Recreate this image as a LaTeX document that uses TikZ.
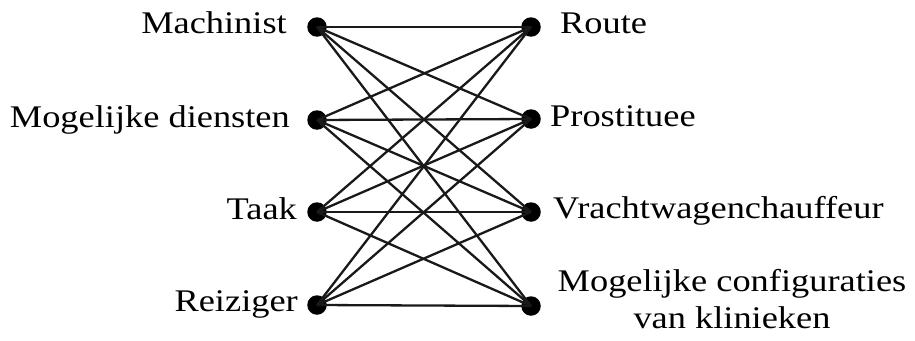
\documentclass[tikz,border=0pt]{standalone}
\usepackage{fontspec}
\setmainfont{Liberation Serif}
\begin{document}
\begin{tikzpicture}[x=1pt,y=-1pt,
  dot/.style={circle,fill=black,inner sep=0pt,minimum size=19.5pt},
  edge/.style={line width=2.3pt,draw=black!90},
  lbl/.style={inner sep=0pt,font=\fontsize{31.5}{37}\selectfont}]
\useasboundingbox (0,0) rectangle (915,340);
\newcommand{\sx}[1]{\scalebox{1.155}[1]{#1}}
% dots
\node[dot] (L1) at (317,27) {};
\node[dot] (L2) at (317,120) {};
\node[dot] (L3) at (317,212) {};
\node[dot] (L4) at (317,305) {};
\node[dot] (R1) at (531,27) {};
\node[dot] (R2) at (531,119) {};
\node[dot] (R3) at (531,212) {};
\node[dot] (R4) at (531,306) {};
% edges
\foreach \i in {1,2,3,4}{
  \foreach \j in {1,2,3,4}{
    \draw[edge] (L\i.center) -- (R\j.center);
  }
}
% labels
\node[lbl,anchor=base east] (tL1) at (287,33) {\sx{Machinist}};
\node[lbl,anchor=base east] (tL2) at (290,127) {\sx{Mogelijke diensten}};
\node[lbl,anchor=base east] (tL3) at (297,219) {\sx{Taak}};
\node[lbl,anchor=base east] (tL4) at (298,311) {\sx{Reiziger}};
\node[lbl,anchor=base west] (tR1) at (560,33) {\sx{Route}};
\node[lbl,anchor=base west] (tR2) at (550,126) {\sx{Prostituee}};
\node[lbl,anchor=base west] (tR3) at (553,218) {\sx{Vrachtwagenchauffeur}};
\node[lbl,anchor=base] (tR4) at (732,291) {\begin{tabular}[t]{@{}c@{}}\sx{Mogelijke configuraties}\\\sx{van klinieken}\end{tabular}};
\end{tikzpicture}
\end{document}
